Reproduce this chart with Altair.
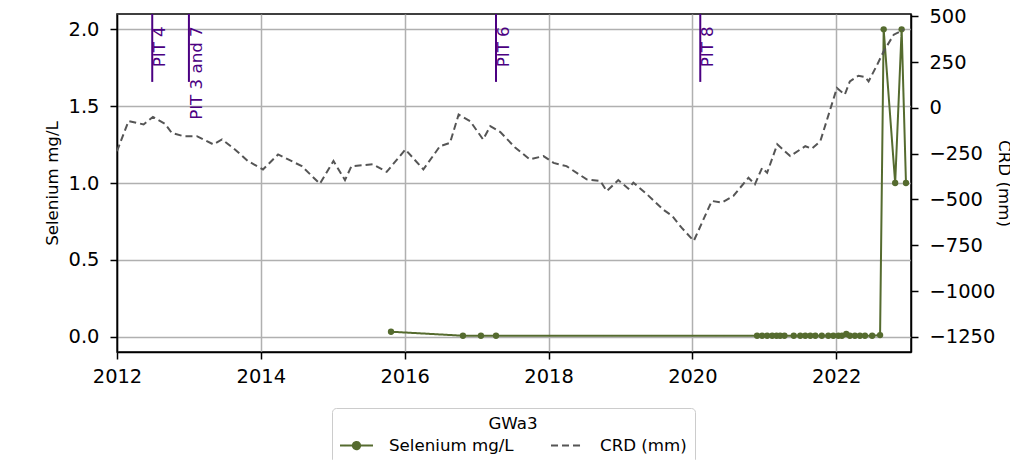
import altair as alt
import pandas as pd

# ---- data ----
crd_year = [2012.00, 2012.16, 2012.37, 2012.50, 2012.67, 2012.76, 2012.92, 2013.11, 2013.34, 2013.46,
            2013.64, 2013.82, 2014.03, 2014.24, 2014.57, 2014.82, 2015.01, 2015.17, 2015.26, 2015.56,
            2015.75, 2016.01, 2016.26, 2016.49, 2016.63, 2016.75, 2016.91, 2017.09, 2017.19, 2017.33,
            2017.54, 2017.74, 2017.93, 2018.07, 2018.25, 2018.53, 2018.72, 2018.81, 2018.97, 2019.11,
            2019.18, 2019.37, 2019.60, 2019.72, 2019.85, 2020.02, 2020.27, 2020.41, 2020.57, 2020.78,
            2020.87, 2020.97, 2021.04, 2021.18, 2021.36, 2021.57, 2021.66, 2021.78, 2022.01, 2022.12,
            2022.19, 2022.31, 2022.40, 2022.45, 2022.57, 2022.66, 2022.80, 2022.94]
crd_mm = [-236, -72, -90, -49, -87, -136, -154, -154, -199, -172,
          -227, -290, -336, -254, -318, -414, -290, -394, -318, -308,
          -349, -227, -336, -209, -191, -36, -72, -172, -100, -132,
          -218, -281, -263, -300, -318, -390, -399, -454, -394, -441,
          -408, -472, -557, -590, -654, -726, -508, -517, -481, -381,
          -417, -327, -354, -199, -263, -209, -223, -181, 109, 73,
          145, 176, 169, 145, 236, 309, 400, 427]

se_year = [2015.81, 2016.81, 2017.06, 2017.27,
           2020.90, 2020.97, 2021.04, 2021.11, 2021.17, 2021.22, 2021.28, 2021.41, 2021.50,
           2021.57, 2021.64, 2021.71, 2021.80, 2021.89, 2021.96, 2022.03, 2022.08, 2022.14,
           2022.19, 2022.26, 2022.33, 2022.40, 2022.50, 2022.61,
           2022.66, 2022.82, 2022.91, 2022.97]
se_val = [0.032, 0.006, 0.006, 0.006,
          0.006, 0.006, 0.006, 0.006, 0.006, 0.006, 0.006, 0.006, 0.006,
          0.006, 0.006, 0.006, 0.006, 0.006, 0.006, 0.006, 0.006, 0.017,
          0.006, 0.006, 0.006, 0.006, 0.006, 0.010,
          2.0, 1.0, 2.0, 1.0]

pit_year = [2012.49, 2013.00, 2017.27, 2020.11]
pit_label = ["PIT 4", "PIT 3 and 7", "PIT 6", "PIT 8"]

x_ticks = [2012, 2014, 2016, 2018, 2020, 2022]
left_ticks = [0.0, 0.5, 1.0, 1.5, 2.0]
right_ticks = [-1250, -1000, -750, -500, -250, 0, 250, 500]

SE = "Selenium mg/L"
CRD = "CRD (mm)"

crd_df = pd.DataFrame({"year": crd_year, "value": crd_mm, "series": CRD})
se_df = pd.DataFrame({"year": se_year, "value": se_val, "series": SE})
pit_df = pd.DataFrame({"year": pit_year, "label": pit_label})

FONT = "DejaVu Sans"
FS = 16.67       # titles, legend, annotations
TFS = 19.44      # tick labels
GREEN = "#556B2F"
GREY = "#555555"
PURPLE = "#4B0082"

x_enc = alt.X("year:Q",
              scale=alt.Scale(domain=[2012, 2023.04], nice=False, zero=False),
              axis=alt.Axis(values=x_ticks, format="d", title=None, grid=True,
                            labelFlush=False, labelOverlap=False, labelPadding=8))

se_path = "M-2,0L2,0M-0.44,0A0.44,0.44,0,1,1,0.44,0A0.44,0.44,0,1,1,-0.44,0Z"
crd_path = "M-2,0L2,0"
legend = alt.Legend(
    title="GWa3", orient="none", legendX=215, legendY=394, direction="horizontal",
    titleAnchor="middle", titleFontWeight="normal", titleFont=FONT, titleFontSize=FS,
    titleColor="black", titlePadding=3,
    labelFont=FONT, labelFontSize=FS, labelColor="black", labelOffset=23,
    symbolType={"expr": f"datum.value === '{SE}' ? '{se_path}' : '{crd_path}'"},
    symbolFillColor={"expr": f"datum.value === '{SE}' ? '{GREEN}' : 'transparent'"},
    symbolSize=272, symbolStrokeWidth=2, symbolOffset=7,
    columnPadding=33, padding=8, strokeColor="#cccccc", cornerRadius=4, fillColor="white",
)
color = alt.Color("series:N", scale=alt.Scale(domain=[SE, CRD], range=[GREEN, GREY]), legend=legend)
dash = alt.StrokeDash("series:N", scale=alt.Scale(domain=[SE, CRD], range=[[1, 0], [7, 4]]),
                      legend=legend)

y_left = alt.Y("value:Q",
               scale=alt.Scale(domain=[-0.1, 2.1], nice=False, zero=False),
               axis=alt.Axis(values=left_ticks, format=".1f", title=SE, orient="left", grid=True,
                             labelPadding=11, titlePadding=7))
y_right = alt.Y("value:Q",
                scale=alt.Scale(domain=[-1333, 513], nice=False, zero=False),
                axis=alt.Axis(values=right_ticks, format="d", title=CRD, orient="right", grid=False,
                              labelPadding=11, titlePadding=0))

se_line = alt.Chart(se_df).mark_line(strokeWidth=2).encode(x=x_enc, y=y_left, color=color, strokeDash=dash)
se_pts = alt.Chart(se_df).mark_point(filled=True, size=40, opacity=1, color=GREEN).encode(x=x_enc, y=y_left)
pit_rule = alt.Chart(pit_df).mark_rule(color=PURPLE, strokeWidth=2).encode(
    x=x_enc, y=alt.datum(2.1), y2=alt.datum(1.658))
pit_text = alt.Chart(pit_df).mark_text(angle=270, align="right", baseline="top", color=PURPLE,
                                       font=FONT, fontSize=FS).encode(
    x=x_enc, y=alt.datum(2.02), text="label:N")

left = alt.layer(se_line, se_pts, pit_rule, pit_text)
right = alt.Chart(crd_df).mark_line(strokeWidth=2).encode(x=x_enc, y=y_right, color=color, strokeDash=dash)

chart = alt.layer(left, right).resolve_scale(y="independent").properties(
    width=794, height=338,
    autosize=alt.AutoSizeParams(type="none"),
    padding={"left": 109, "top": 6, "right": 99, "bottom": 108},
).configure_axis(
    labelFont=FONT, labelFontSize=TFS, labelColor="black",
    titleFont=FONT, titleFontSize=FS, titleFontWeight="normal", titleColor="black",
    domainColor="black", domainWidth=1.5, tickColor="black", tickSize=7, tickWidth=1.5,
    gridColor="#b0b0b0", gridWidth=1.5,
).configure_view(stroke="black", strokeWidth=1.5)

chart.save("out.html", embed_options={"renderer": "svg", "actions": False})
